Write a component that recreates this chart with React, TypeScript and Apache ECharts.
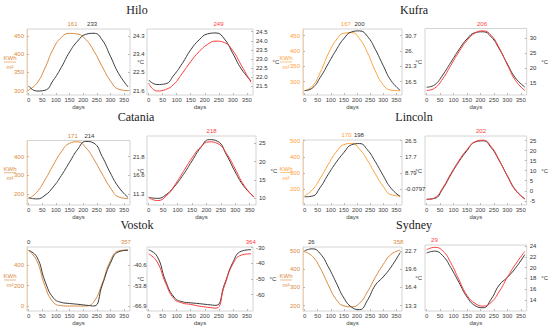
import React, { useEffect, useRef } from 'react';
import * as echarts from 'echarts';

// ---------- data ----------
const days = [0, 30, 60, 90, 120, 150, 180, 210, 240, 270, 300, 330, 365];
const dayTicks = [0, 50, 100, 150, 200, 250, 300, 350];

const hiloSolar = [302, 320, 362, 414, 446, 457, 455, 440, 408, 366, 327, 304, 300];
const hiloTemp = [21.83, 21.58, 21.62, 22.1, 22.75, 23.5, 24.05, 24.38, 24.43, 24.1, 23.3, 22.45, 21.78];
const hiloModel = [21.65, 21.22, 21.3, 21.6, 22.2, 22.85, 23.4, 23.8, 23.98, 23.9, 23.45, 22.65, 21.7];
const hiloSolarTicks = [300, 350, 400, 450];
const hiloTempLabels = ['21.6', '22.5', '23.4', '24.3'];
const hiloRightTicks = [21.5, 22, 22.5, 23, 23.5, 24, 24.5];
const hiloPeaks = [161, 233, 249];

const kufraSolar = [270, 285, 330, 390, 435, 458, 460, 440, 395, 335, 290, 272, 270];
const kufraTemp = [13.7, 14.5, 17.8, 22.0, 26.2, 29.8, 31.9, 32.2, 30.5, 26.5, 21.5, 16.8, 13.8];
const kufraModel = [12.6, 13.4, 16.5, 21.0, 25.5, 29.3, 31.8, 32.5, 31.0, 26.8, 21.2, 16.0, 12.6];
const kufraSolarTicks = [300, 350, 400, 450];
const kufraTempLabels = ['16.5', '21.3', '26.', '30.7'];
const kufraRightTicks = [15, 20, 25, 30];
const kufraPeaks = [167, 200, 206];

const cataniaSolar = [177, 211, 276, 354, 425, 470, 478, 447, 384, 307, 234, 186, 177];
const cataniaTemp = [10.3, 10.0, 11.0, 13.3, 16.5, 20.2, 23.8, 26.0, 25.5, 21.8, 17.2, 13.3, 10.4];
const cataniaModel = [10.2, 9.4, 10.6, 13.6, 17.3, 21.0, 24.0, 25.4, 24.9, 22.2, 18.0, 13.6, 10.3];
const cataniaSolarTicks = [200, 300, 400];
const cataniaTempLabels = ['11.3', '16.6', '21.8'];
const cataniaRightTicks = [10, 15, 20, 25];
const cataniaPeaks = [171, 214, 218];

const lincolnSolar = [159, 197, 268, 352, 428, 475, 483, 447, 379, 295, 218, 167, 159];
const lincolnTemp = [-4.2, -3.8, 1.0, 8.0, 14.5, 20.0, 24.3, 24.9, 21.5, 15.0, 7.5, 0.5, -4.0];
const lincolnModel = [-4.4, -3.5, 1.5, 8.5, 15.0, 20.5, 24.4, 25.2, 22.0, 15.2, 7.3, 0.3, -4.2];
const lincolnSolarTicks = [200, 300, 400, 500];
const lincolnTempLabels = ['-0.0797', '8.79', '17.7', '26.5'];
const lincolnRightTicks = [-5, 0, 5, 10, 15, 20, 25];
const lincolnPeaks = [170, 198, 202];

const vostokSolar = [540, 440, 195, 40, 5, 1, 1, 2, 45, 221, 440, 535, 545];
const vostokTemp = [-31.4, -35.5, -51, -61.5, -64.5, -65.2, -65.7, -66.3, -66.8, -53.5, -39.5, -32.3, -31.3];
const vostokModel = [-34.0, -39.0, -52.5, -62.5, -65.3, -66.2, -67.3, -68.0, -68.6, -54.5, -40.5, -34.8, -33.9];
const vostokSolarTicks = [0, 200, 400];
const vostokTempLabels = ['-66.9', '-53.8', '-40.6'];
const vostokRightTicks = [-60, -50, -40, -30];
const vostokPeaks = [357, 0, 364];

const sydneySolar = [495, 470, 405, 315, 235, 198, 193, 213, 275, 355, 425, 480, 504];
const sydneyTemp = [22.7, 23.05, 22.2, 20.0, 17.3, 14.6, 13.0, 12.6, 14.2, 16.8, 18.2, 19.9, 22.4];
const sydneyModel = [23.3, 23.75, 23.1, 20.9, 17.8, 14.9, 13.4, 12.9, 13.6, 15.6, 18.2, 20.6, 23.0];
const sydneySolarTicks = [200, 300, 400, 500];
const sydneyTempLabels = ['13.3', '16.4', '19.6', '22.7'];
const sydneyRightTicks = [14, 16, 18, 20, 22, 24];
const sydneyPeaks = [358, 26, 29];

// ---------- styling / layout ----------
const ORANGE_A = '#d98a3d';
const ORANGE_B = '#ffa03a';
const BLACK = '#3a3a3a';
const RED = '#ff3c3c';
const FONT = 'Liberation Sans';
const SERIF = 'Liberation Serif';

const panels = [
  { title: 'Hilo', solar: hiloSolar, temp: hiloTemp, model: hiloModel, solarRange: [288, 469], solarTicks: hiloSolarTicks, tempLabels: hiloTempLabels, rightRange: [21.0, 24.65], rightTicks: hiloRightTicks, dec: 1, peaks: hiloPeaks, orange: ORANGE_A,
    L: [27, 29, 103, 66], R: [147, 29, 106, 66], T: [137, 10], cGap: 8 },
  { title: 'Kufra', solar: kufraSolar, temp: kufraTemp, model: kufraModel, solarRange: [256, 472], solarTicks: kufraSolarTicks, tempLabels: kufraTempLabels, rightRange: [11.1, 33.3], rightTicks: kufraRightTicks, dec: 0, peaks: kufraPeaks, orange: ORANGE_B,
    L: [303, 29, 99, 66], R: [425, 28.5, 108, 66.5], T: [414, 10], cGap: 5 },
  { title: 'Catania', solar: cataniaSolar, temp: cataniaTemp, model: cataniaModel, solarRange: [143, 485], solarTicks: cataniaSolarTicks, tempLabels: cataniaTempLabels, rightRange: [8.2, 27.0], rightTicks: cataniaRightTicks, dec: 0, peaks: cataniaPeaks, orange: ORANGE_A,
    L: [27, 140.5, 103, 64.5], R: [147, 136, 109, 69], T: [136, 117], cGap: 6 },
  { title: 'Lincoln', solar: lincolnSolar, temp: lincolnTemp, model: lincolnModel, solarRange: [103, 504], solarTicks: lincolnSolarTicks, tempLabels: lincolnTempLabels, rightRange: [-7.1, 27.3], rightTicks: lincolnRightTicks, dec: 0, peaks: lincolnPeaks, orange: ORANGE_B,
    L: [303, 140, 99, 65], R: [425, 136, 108, 69], T: [414, 117], cGap: 6 },
  { title: 'Vostok', solar: vostokSolar, temp: vostokTemp, model: vostokModel, solarRange: [-47, 573], solarTicks: vostokSolarTicks, tempLabels: vostokTempLabels, rightRange: [-70.4, -29.6], rightTicks: vostokRightTicks, dec: 0, peaks: vostokPeaks, orange: ORANGE_A,
    L: [27, 247, 103, 66], R: [147, 247, 106, 66], T: [137, 225], cGap: 5 },
  { title: 'Sydney', solar: sydneySolar, temp: sydneyTemp, model: sydneyModel, solarRange: [170, 521], solarTicks: sydneySolarTicks, tempLabels: sydneyTempLabels, rightRange: [12.0, 24.18], rightTicks: sydneyRightTicks, dec: 0, peaks: sydneyPeaks, orange: ORANGE_A,
    L: [303, 247, 99, 66], R: [425, 245, 108, 68], T: [414, 225], cGap: 5 },
];

const small = { fontSize: 6, fontFamily: FONT };

function mkX(gi: number) {
  return {
    type: 'value', gridIndex: gi, min: -6, max: 372,
    axisLine: { show: false, onZero: false },
    axisTick: { show: true, inside: true, length: 2, lineStyle: { color: '#bbb' }, customValues: dayTicks },
    axisLabel: { ...small, color: '#444', margin: 2, customValues: dayTicks },
    splitLine: { show: false },
    name: 'days', nameLocation: 'middle', nameGap: 9,
    nameTextStyle: { ...small, color: '#444' },
  };
}

function peakMark(day: number, y: number, color: string, dx: number) {
  return {
    symbol: 'circle', symbolSize: 0, silent: true, animation: false,
    data: [{ coord: [day, y] }],
    label: { show: true, position: 'top', distance: 2, offset: [dx, 0], formatter: String(day), color, ...small },
  };
}

function buildOption() {
  const grid: any[] = [];
  const xAxis: any[] = [];
  const yAxis: any[] = [];
  const series: any[] = [];
  const graphic: any[] = [];

  panels.forEach((p) => {
    const tvals = p.tempLabels.map((s) => parseFloat(s));
    const s0 = p.solarTicks[0];
    const s1 = p.solarTicks[p.solarTicks.length - 1];
    const slope = (tvals[tvals.length - 1] - tvals[0]) / (s1 - s0);
    const tMin = tvals[0] + (p.solarRange[0] - s0) * slope;
    const tMax = tvals[0] + (p.solarRange[1] - s0) * slope;
    const close = Math.abs(p.peaks[1] - p.peaks[0]) < 45;
    const dxA = close ? -2.5 : 0;
    const dxB = close ? 2.5 : 0;

    // ---- left plot ----
    const gL = grid.length;
    grid.push({ left: p.L[0], top: p.L[1], width: p.L[2], height: p.L[3], show: true, borderColor: '#d4d4d4', borderWidth: 1 });
    xAxis.push(mkX(gL));
    const yS = yAxis.length;
    yAxis.push({
      type: 'value', gridIndex: gL, position: 'left', min: p.solarRange[0], max: p.solarRange[1],
      axisLine: { show: true, onZero: false, lineStyle: { color: '#f3cfa6' } },
      axisTick: { show: true, inside: true, length: 2, lineStyle: { color: '#e0b080' }, customValues: p.solarTicks },
      axisLabel: { ...small, color: p.orange, margin: 3, customValues: p.solarTicks },
      splitLine: { show: false },
    });
    const yT = yAxis.length;
    yAxis.push({
      type: 'value', gridIndex: gL, position: 'right', min: tMin, max: tMax,
      axisLine: { show: false, onZero: false },
      axisTick: { show: true, inside: true, length: 2, lineStyle: { color: '#bbb' }, customValues: tvals },
      axisLabel: {
        ...small, color: '#333', margin: 3, customValues: tvals,
        formatter: (v: number) => {
          let best = 0;
          tvals.forEach((t, i) => { if (Math.abs(t - v) < Math.abs(tvals[best] - v)) best = i; });
          return p.tempLabels[best];
        },
      },
      splitLine: { show: false },
    });
    series.push({
      type: 'line', xAxisIndex: gL, yAxisIndex: yS, data: days.map((d, i) => [d, p.solar[i]]),
      showSymbol: false, smooth: 0.5, lineStyle: { width: 1, color: p.orange }, itemStyle: { color: p.orange },
      markPoint: peakMark(p.peaks[0], p.solarRange[1], p.orange, dxA),
    });
    series.push({
      type: 'line', xAxisIndex: gL, yAxisIndex: yT, data: days.map((d, i) => [d, p.temp[i]]),
      showSymbol: false, smooth: 0.5, lineStyle: { width: 1, color: BLACK }, itemStyle: { color: BLACK },
      markPoint: peakMark(p.peaks[1], tMax, '#333', dxB),
    });

    // KWh / m² fraction
    const cx = p.L[0] - 17;
    const cy = p.L[1] + p.L[3] / 2;
    graphic.push(
      { type: 'text', x: cx, y: cy - 4, style: { text: 'KWh', fill: p.orange, fontSize: 6, fontFamily: FONT, textAlign: 'center', textVerticalAlign: 'middle' } },
      { type: 'line', shape: { x1: cx - 6, y1: cy, x2: cx + 6, y2: cy }, style: { stroke: p.orange, lineWidth: 0.6 } },
      { type: 'text', x: cx, y: cy + 5, style: { text: 'm²', fill: p.orange, fontSize: 6, fontFamily: FONT, textAlign: 'center', textVerticalAlign: 'middle' } },
    );

    // ---- right plot ----
    const gR = grid.length;
    grid.push({ left: p.R[0], top: p.R[1], width: p.R[2], height: p.R[3], show: true, borderColor: '#d4d4d4', borderWidth: 1 });
    xAxis.push(mkX(gR));
    yAxis.push({
      type: 'value', gridIndex: gR, position: 'left', min: p.rightRange[0], max: p.rightRange[1],
      axisLine: { show: false, onZero: false }, axisTick: { show: false }, axisLabel: { show: false }, splitLine: { show: false },
      name: '°C', nameLocation: 'middle', nameRotate: 0, nameGap: 3, nameTextStyle: { ...small, color: '#333' },
    });
    const yR = yAxis.length;
    yAxis.push({
      type: 'value', gridIndex: gR, position: 'right', min: p.rightRange[0], max: p.rightRange[1],
      axisLine: { show: false, onZero: false },
      axisTick: { show: true, inside: true, length: 2, lineStyle: { color: '#bbb' }, customValues: p.rightTicks },
      axisLabel: { ...small, color: '#333', margin: 3, customValues: p.rightTicks, formatter: (v: number) => v.toFixed(p.dec) },
      splitLine: { show: false },
      name: '°C', nameLocation: 'middle', nameRotate: 0, nameGap: p.cGap, nameTextStyle: { ...small, color: '#333', align: 'left' },
    });
    series.push({
      type: 'line', xAxisIndex: gR, yAxisIndex: yR, data: days.map((d, i) => [d, p.temp[i]]),
      showSymbol: false, smooth: 0.5, lineStyle: { width: 1, color: BLACK }, itemStyle: { color: BLACK },
    });
    series.push({
      type: 'line', xAxisIndex: gR, yAxisIndex: yR, data: days.map((d, i) => [d, p.model[i]]),
      showSymbol: false, smooth: 0.5, lineStyle: { width: 1, color: RED }, itemStyle: { color: RED },
      markPoint: peakMark(p.peaks[2], p.rightRange[1], RED, 0),
    });

    graphic.push({
      type: 'text', x: p.T[0], y: p.T[1],
      style: { text: p.title, fill: '#222', fontSize: 12, fontWeight: 'normal', fontFamily: SERIF, textAlign: 'center', textVerticalAlign: 'middle' },
    });
  });

  return {
    animation: false,
    backgroundColor: '#ffffff',
    textStyle: { fontFamily: FONT },
    grid, xAxis, yAxis, series, graphic,
  };
}

export default function App() {
  const ref = useRef<HTMLDivElement>(null);
  useEffect(() => {
    if (!ref.current) return;
    const chart = echarts.init(ref.current, undefined, { renderer: 'svg' });
    chart.setOption(buildOption() as any);
    return () => chart.dispose();
  }, []);
  return (
    <div
      ref={ref}
      style={{ position: 'fixed', left: 0, top: 0, width: 550, height: 327, background: '#fff' }}
    />
  );
}
